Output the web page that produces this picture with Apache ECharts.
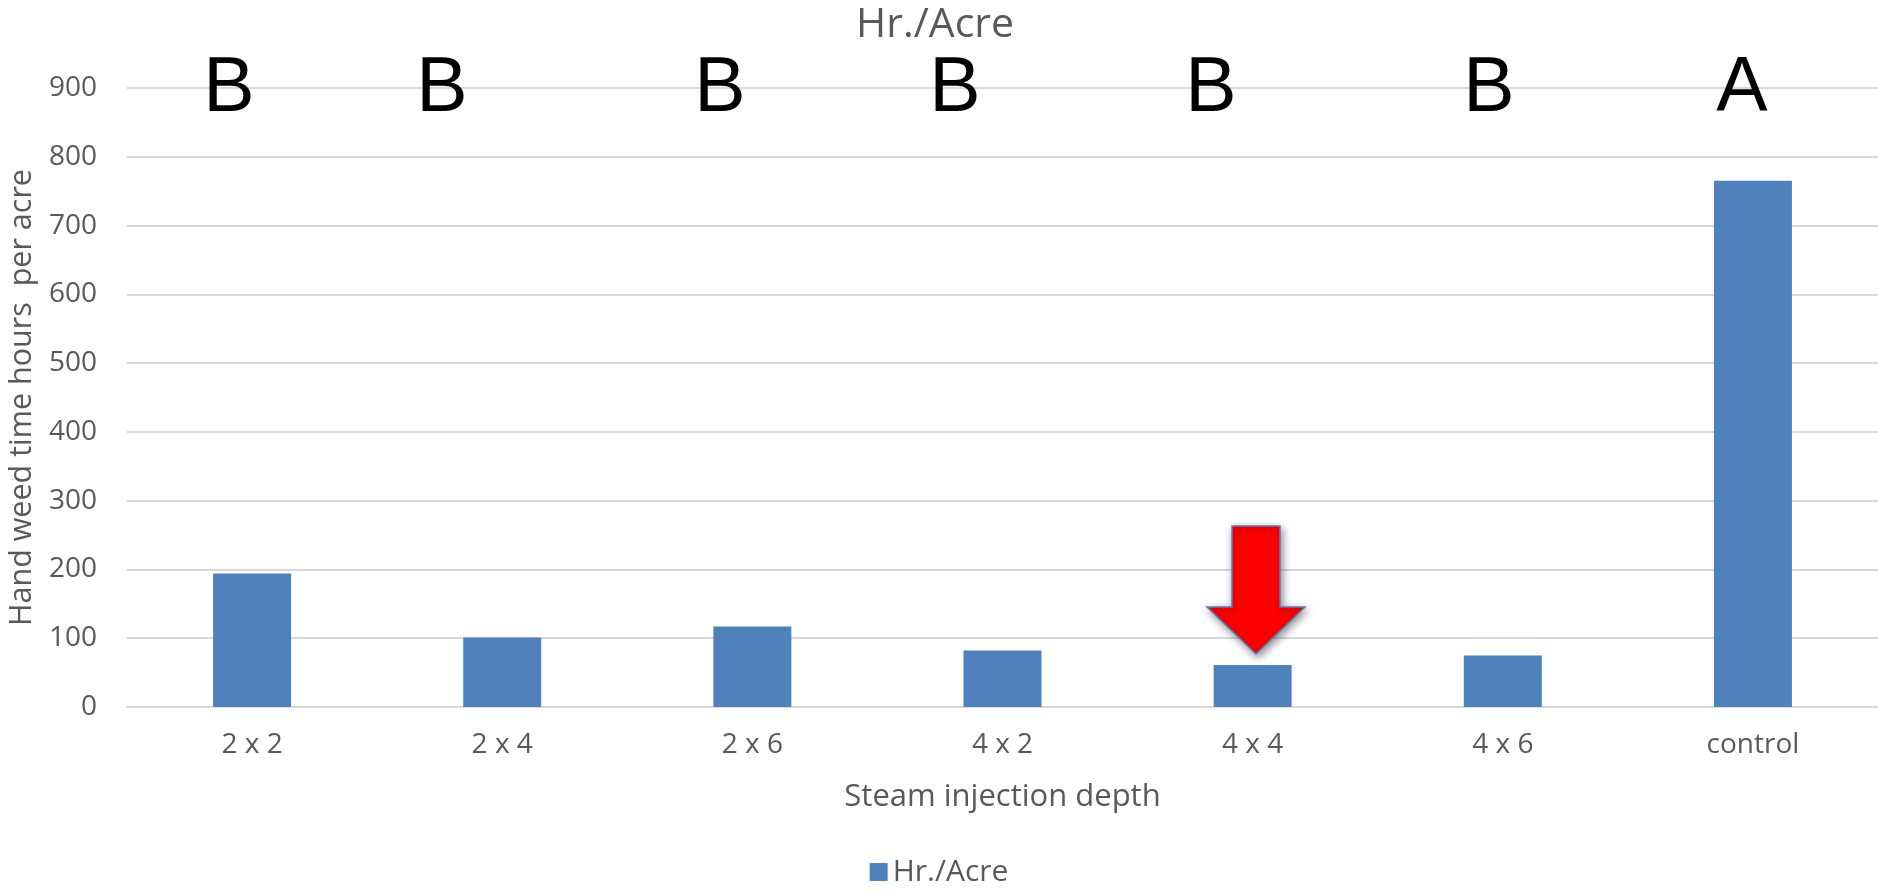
<!DOCTYPE html>
<html><head><meta charset="utf-8">
<script src="https://cdn.jsdelivr.net/npm/echarts@6/dist/echarts.min.js"></script>
<style>html,body{margin:0;padding:0;background:#fff}#c{width:1878px;height:895px}</style>
</head><body><div id="c"></div>
<script>
const categories = ['2 x 2','2 x 4','2 x 6','4 x 2','4 x 4','4 x 6','control'];
const hrPerAcre = [194, 101, 117, 82, 61, 75, 765];
const letters = ['B','B','B','B','B','B','A'];
const letterX = [229, 442, 720, 955, 1211, 1489, 1742];
const yTicks = [0,100,200,300,400,500,600,700,800,900];

const chart = echarts.init(document.getElementById('c'));
const F = '"Open Sans", sans-serif';
const graphic = letters.map((t,i)=>({
  type:'text', x: letterX[i], y: 90,
  style:{text:t, font:'77px "Liberation Sans", Arial, sans-serif', fill:'#000', align:'center', verticalAlign:'middle'}, z:10
}));
graphic.push({
  type:'polygon', z:20,
  shape:{points:[[1232,526],[1280,526],[1280,607],[1305,607],[1256,654],[1207,607],[1232,607]]},
  style:{fill:'#ff0000', stroke:'#4f81bd', lineWidth:1.5, shadowBlur:8, shadowColor:'rgba(0,0,0,0.45)', shadowOffsetX:2, shadowOffsetY:3}
});
chart.setOption({
  animation:false,
  title:{text:'Hr./Acre', left:930, top:0, textAlign:'center', textStyle:{fontFamily:F, fontSize:41, fontWeight:'normal', color:'#595959'}},
  grid:{left:127, right:0, top:88, bottom:188, containLabel:false, outerBoundsMode:'none'},
  legend:{bottom:3, left:'center', itemWidth:18, itemHeight:18, icon:'rect', itemGap:10,
    textStyle:{fontFamily:F, fontSize:30, color:'#595959'}, data:['Hr./Acre']},
  xAxis:{type:'category', data:categories, name:'Steam injection depth', nameLocation:'middle', nameGap:75,
    nameTextStyle:{fontFamily:F, fontSize:31, color:'#595959'},
    axisLine:{lineStyle:{color:'#d9d9d9', width:2}}, axisTick:{show:false},
    axisLabel:{fontFamily:F, fontSize:28, color:'#595959', margin:24}},
  yAxis:{type:'value', min:0, max:900, interval:100, name:'Hand weed time hours  per acre', nameLocation:'middle', nameGap:87,
    nameTextStyle:{fontFamily:F, fontSize:30.5, color:'#595959'},
    axisLine:{show:false}, axisTick:{show:false},
    axisLabel:{fontFamily:F, fontSize:28, color:'#595959', margin:30, formatter:v=>yTicks.includes(v)?String(v):''},
    splitLine:{lineStyle:{color:'#d9d9d9', width:2}}},
  series:[{name:'Hr./Acre', type:'bar', data:hrPerAcre, barWidth:78, itemStyle:{color:'#4f81bd'}}],
  graphic: graphic
});
</script></body></html>
